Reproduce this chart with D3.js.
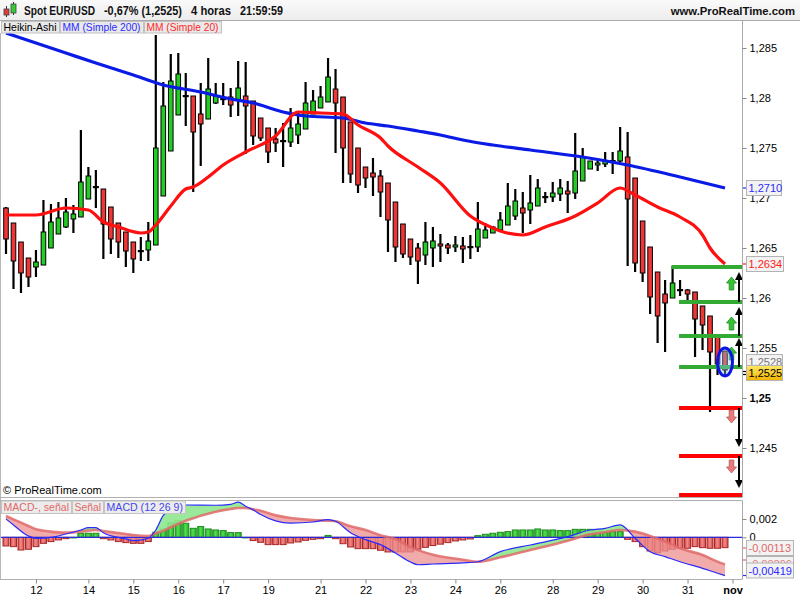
<!DOCTYPE html>
<html>
<head>
<meta charset="utf-8">
<script src="https://cdnjs.cloudflare.com/ajax/libs/d3/7.8.5/d3.min.js"></script>
<style>
html,body{margin:0;padding:0;background:#fff;}
svg{display:block;font-family:"Liberation Sans",Arial,Helvetica,sans-serif;}
</style>
</head>
<body>
<svg id="chart" width="800" height="600"></svg>
<script>
// ---------- DATA (Heikin-Ashi candles, 4h, EUR/USD) ----------
const haOpen = [
1.2690,1.2675,1.2656,1.2640,1.2631,1.2633,1.2650,1.2664,1.2671,1.2679,
1.2681,1.2699,1.2711,1.2709,1.2691,1.2675,1.2666,1.2656,1.2647,1.2648,
1.2653,1.2702,1.2747,1.2783,1.2802,1.2802,1.2784,1.2779,1.2795,1.2799,
1.2801,1.2798,1.2802,1.2797,1.2780,1.2770,1.2759,1.2757,1.2756,1.2763,
1.2769,1.2784,1.2790,1.2796,1.2809,1.2801,1.2776,1.2750,1.2731,1.2725,
1.2722,1.2715,1.2696,1.2674,1.2659,1.2650,1.2643,1.2650,1.2654,1.2653,
1.2651,1.2652,1.2651,1.2651,1.2660,1.2665,1.2668,1.2673,1.2682,1.2690,
1.2688,1.2692,1.2701,1.2701,1.2704,1.2707,1.2705,1.2717,1.2729,1.2733,
1.2734,1.2737,1.2737,1.2741,1.2720,1.2677,1.2651,1.2626,1.2604,1.2600,
1.2608,1.2608,1.2606,1.2592,1.2582,1.2562,1.2547];
const haHigh = [
1.2691,1.2675,1.2656,1.2640,1.2648,1.2698,1.2694,1.2696,1.2700,1.2693,
1.2768,1.2731,1.2728,1.2709,1.2691,1.2675,1.2666,1.2656,1.2661,1.2676,
1.2863,1.2816,1.2844,1.2845,1.2825,1.2802,1.2815,1.2840,1.2815,1.2815,
1.2810,1.2837,1.2836,1.2797,1.2780,1.2770,1.2770,1.2775,1.2790,1.2787,
1.2816,1.2808,1.2812,1.2840,1.2829,1.2801,1.2776,1.2750,1.2731,1.2740,
1.2728,1.2715,1.2696,1.2674,1.2659,1.2655,1.2676,1.2671,1.2664,1.2655,
1.2662,1.2661,1.2663,1.2696,1.2675,1.2672,1.2686,1.2715,1.2709,1.2706,
1.2723,1.2719,1.2706,1.2716,1.2719,1.2717,1.2765,1.2750,1.2737,1.2740,
1.2746,1.2746,1.2771,1.2766,1.2720,1.2677,1.2651,1.2626,1.2618,1.2632,
1.2618,1.2609,1.2606,1.2592,1.2582,1.2562,1.2547];
const haLow = [
1.2644,1.2609,1.2605,1.2611,1.2621,1.2633,1.2650,1.2664,1.2670,1.2665,
1.2681,1.2699,1.2690,1.2639,1.2644,1.2640,1.2631,1.2625,1.2637,1.2637,
1.2653,1.2702,1.2747,1.2783,1.2772,1.2706,1.2732,1.2779,1.2794,1.2793,
1.2781,1.2782,1.2744,1.2753,1.2757,1.2735,1.2746,1.2731,1.2751,1.2754,
1.2769,1.2784,1.2790,1.2796,1.2745,1.2715,1.2715,1.2705,1.2710,1.2702,
1.2681,1.2646,1.2636,1.2640,1.2633,1.2614,1.2633,1.2631,1.2636,1.2644,
1.2646,1.2635,1.2639,1.2646,1.2660,1.2665,1.2668,1.2673,1.2678,1.2665,
1.2674,1.2692,1.2695,1.2696,1.2697,1.2685,1.2699,1.2717,1.2729,1.2727,
1.2731,1.2724,1.2736,1.2632,1.2626,1.2616,1.2584,1.2555,1.2546,1.2600,
1.2602,1.2598,1.2541,1.2548,1.2486,1.2523,1.2522];
const haClose = [
1.2659,1.2637,1.2625,1.2621,1.2636,1.2666,1.2676,1.2680,1.2686,1.2684,
1.2716,1.2722,1.2711,1.2674,1.2659,1.2656,1.2647,1.2639,1.2647,1.2657,
1.2750,1.2792,1.2817,1.2824,1.2802,1.2766,1.2774,1.2809,1.2802,1.2799,
1.2793,1.2810,1.2792,1.2762,1.2760,1.2746,1.2755,1.2757,1.2770,1.2774,
1.2795,1.2797,1.2801,1.2821,1.2795,1.2750,1.2724,1.2713,1.2720,1.2721,
1.2706,1.2678,1.2651,1.2644,1.2641,1.2637,1.2656,1.2657,1.2652,1.2650,
1.2653,1.2649,1.2651,1.2669,1.2668,1.2671,1.2678,1.2692,1.2697,1.2685,
1.2695,1.2710,1.2701,1.2705,1.2710,1.2704,1.2727,1.2741,1.2737,1.2735,
1.2737,1.2737,1.2747,1.2699,1.2635,1.2625,1.2601,1.2582,1.2595,1.2615,
1.2608,1.2604,1.2579,1.2573,1.2546,1.2534,1.2528];

// Moving averages (read at candle indices)
const ma200Idx = [0,4,8,12,17,21,26,30,33,37,40,45,48,51,55,58,61,65,70,77,83,90,96];
const ma200Val = [1.2865,1.2855,1.2845,1.2835,1.2823,1.2813,1.2806,1.2799,1.2795,1.2786,1.2782,1.2780,1.2775,1.2772,1.2767,1.2763,1.2758,1.2753,1.2748,1.2741,1.2733,1.2721,1.2710];
const ma20Idx = [0,4,8,11,13,15,18,19,20,22,24,25,27,29,32,36,39,42,45,47,50,51,55,58,62,65,66,69,72,76,79,82,84,87,90,93,94,96];
const ma20Val = [1.2683,1.2683,1.2690,1.2688,1.2676,1.2671,1.2665,1.2666,1.2673,1.2692,1.2709,1.2711,1.2721,1.2733,1.2746,1.2762,1.2786,1.2785,1.2784,1.2773,1.2760,1.2752,1.2731,1.2715,1.2682,1.2670,1.2667,1.2663,1.2671,1.2682,1.2695,1.2710,1.2703,1.2691,1.2681,1.2663,1.2650,1.2634];

// MACD (12 26 9)
const macdIdx = [0,1,3,4,6,8,10,11,12,13,16,17,19,20,21,22,24,28,30,31,32,33,34,36,38,41,43,44,46,48,50,52,54,55,57,61,63,66,70,75,78,80,82,84,86,88,90,93,95,96];
const macdVal = [0.0020,0.00135,0.00014,-0.00011,0.0,0.00036,0.0008,0.00106,0.00106,0.0005,
-0.00018,-0.00037,-0.0001,0.0008,0.0024,0.0030,0.00353,0.0035,0.0036,0.00385,
0.0034,0.0030,0.0025,0.0018,0.00156,0.00167,0.00193,0.00175,0.0005,-0.00026,
-0.0008,-0.00172,-0.0027,-0.003,-0.00292,-0.0028,-0.00267,-0.00157,-0.00084,0.00007,
0.0008,0.00098,0.00135,-0.00011,-0.00157,-0.00211,-0.00267,-0.00339,-0.00393,-0.00419];
const signalVal = [0.00233,0.00196,0.00124,0.00087,0.00062,0.00051,0.00062,0.00073,0.0008,0.00069,
0.00036,0.00025,0.00015,0.00045,0.0007,0.0011,0.0018,0.0028,0.0031,0.0032,
0.0032,0.00305,0.0029,0.0024,0.0021,0.00188,0.00182,0.00176,0.0012,0.0008,
0.00022,-0.0002,-0.0011,-0.0014,-0.0019,-0.00245,-0.00267,-0.00219,-0.00139,-0.00037,
0.00033,0.00055,0.0008,0.00062,0.00015,-0.00047,-0.0012,-0.00193,-0.00266,-0.00296];
const macdHist = [
-0.00095,-0.00102,-0.00139,-0.00131,-0.00102,-0.00066,-0.00047,-0.00029,-0.00015,0.0,
0.00044,0.00044,0.00044,-0.00015,-0.00029,-0.00047,-0.00058,-0.00066,-0.00066,-0.00047,
0.00055,0.00091,0.0016,0.00182,0.00153,0.00098,0.00117,0.00091,0.0008,0.00073,
0.00051,0.00051,0.0,-0.00036,-0.00055,-0.0008,-0.0008,-0.0008,-0.00062,-0.00051,
-0.00033,-0.00022,-0.00015,0.0002,-0.00015,-0.0007,-0.00106,-0.00124,-0.00124,-0.00124,
-0.00142,-0.0016,-0.0016,-0.0016,-0.0016,-0.0013,-0.0011,-0.0009,-0.00075,-0.00058,
-0.0004,-0.00029,-0.00018,0.00018,0.00033,0.00044,0.00055,0.00062,0.0008,0.0008,
0.0008,0.00091,0.0008,0.0008,0.00073,0.00073,0.00087,0.00087,0.00087,0.0008,
0.00069,0.00062,0.00062,-0.00022,-0.00047,-0.00102,-0.0015,-0.00168,-0.0015,-0.00131,
-0.0012,-0.0012,-0.00102,-0.00113,-0.0012,-0.0012,-0.00113];

// Axis labels
const xTickIdx = [4,11,17,23,29,35,42,48,54,60,66,73,79,85,91,97];
const xTickLab = ['12','14','15','16','17','19','21','22','23','24','26','28','29','30','31','nov'];
const priceTicks = [1.285,1.28,1.275,1.27,1.265,1.26,1.255,1.25,1.245];
const macdTicks = [0.002,0];

// Drawn levels / annotations
const greenLevels = [1.2631,1.2596,1.2562,1.2531];
const greenStart = [89,90,90,90];
const redLevels = [1.2490,1.2442,1.2403];
const redStart = [90,90,90];
const upArrowFrom = [1.2596,1.2562,1.2531], upArrowTo = [1.2626,1.2591,1.2560];
const downArrowFrom = [1.2490,1.2442], downArrowTo = [1.2451,1.2410];
const greenBlockTips = [1.2621,1.2581,1.2551];
const redBlockTips = [1.2475,1.2425];

// ---------- LAYOUT ----------
const svg = d3.select('#chart');
const plotR = 742, mainTop = 33.5, mainBot = 497, macdTop = 500.5, macdBot = 579;
const xs = d3.scaleLinear().domain([0,96]).range([6,725]);
const ys = d3.scaleLinear().domain([1.24,1.29]).range([498,-2]);
const ym = d3.scaleLinear().domain([0,0.002]).range([537.3,519]);
const fmtP = d => String(d).replace('.',',');

const defs = svg.append('defs');
defs.append('clipPath').attr('id','clipMain').append('rect')
  .attr('x',1).attr('y',mainTop).attr('width',plotR-1).attr('height',mainBot-mainTop);
defs.append('clipPath').attr('id','clipMacd').append('rect')
  .attr('x',1).attr('y',macdTop).attr('width',plotR-1).attr('height',macdBot-macdTop);
function vGrad(id, c1, c2){
  const g = defs.append('linearGradient').attr('id',id).attr('x1',0).attr('y1',0).attr('x2',0).attr('y2',1);
  g.append('stop').attr('offset','0%').attr('stop-color',c1);
  g.append('stop').attr('offset','100%').attr('stop-color',c2);
}
function hGrad(id, cEdge, cMid){
  const g = defs.append('linearGradient').attr('id',id).attr('x1',0).attr('y1',0).attr('x2',1).attr('y2',0);
  g.append('stop').attr('offset','0%').attr('stop-color',cEdge);
  g.append('stop').attr('offset','45%').attr('stop-color',cMid);
  g.append('stop').attr('offset','100%').attr('stop-color',cEdge);
}
vGrad('gHead','#fafafa','#ececec');
vGrad('gYel','#ffe766','#f2b400');
hGrad('gBarG','#22aa22','#55dd55');
hGrad('gBarR','#d24848','#f48a8a');

// ---------- HEADER ----------
svg.append('rect').attr('x',0).attr('y',0).attr('width',800).attr('height',20.5).attr('fill','url(#gHead)');
svg.append('line').attr('x1',0).attr('x2',800).attr('y1',20.5).attr('y2',20.5).attr('stroke','#aaaaaa');
svg.append('line').attr('x1',6.5).attr('x2',6.5).attr('y1',6).attr('y2',17).attr('stroke','#333');
svg.append('rect').attr('x',4).attr('y',9).attr('width',5).attr('height',6).attr('fill','#e23b3b').attr('stroke','#444').attr('stroke-width',0.8);
svg.append('line').attr('x1',13.5).attr('x2',13.5).attr('y1',2).attr('y2',15).attr('stroke','#333');
svg.append('rect').attr('x',11).attr('y',4).attr('width',5).attr('height',9).attr('fill','#33cc33').attr('stroke','#444').attr('stroke-width',0.8);
const headTexts = [['Spot EUR/USD',24,71],['-0,67% (1,2525)',104,78],['4 horas',191,40],['21:59:59',240,43]];
headTexts.forEach(t => {
  svg.append('text').attr('x',t[1]).attr('y',15).attr('font-size',12).attr('font-weight','bold')
    .attr('fill','#111').attr('textLength',t[2]).attr('lengthAdjust','spacingAndGlyphs').text(t[0]);
});
svg.append('text').attr('x',795).attr('y',15).attr('text-anchor','end').attr('font-size',11.3)
  .attr('font-weight','bold').attr('fill','#111').text('www.ProRealTime.com');

const tabs = [['Heikin-Ashi',1,58,'#000'],['MM (Simple 200)',60,83,'#2b2bff'],['MM (Simple 20)',144,77,'#ff2b2b']];
tabs.forEach(t => {
  svg.append('rect').attr('x',t[1]+0.5).attr('y',21.5).attr('width',t[2]).attr('height',11.5)
    .attr('fill','#e9e9e9').attr('stroke','#c2c2c2');
  svg.append('text').attr('x',t[1]+2.5).attr('y',31).attr('font-size',10.6).attr('fill',t[3])
    .attr('textLength',t[2]-5).attr('lengthAdjust','spacingAndGlyphs').text(t[0]);
});

// ---------- FRAMES ----------
svg.append('line').attr('x1',0.5).attr('x2',0.5).attr('y1',33).attr('y2',macdBot).attr('stroke','#b8b8b8');
svg.append('line').attr('x1',0).attr('x2',plotR).attr('y1',mainBot+0.5).attr('y2',mainBot+0.5).attr('stroke','#b0b0b0');
svg.append('line').attr('x1',0).attr('x2',plotR).attr('y1',macdTop).attr('y2',macdTop).attr('stroke','#b0b0b0');
svg.append('line').attr('x1',0).attr('x2',plotR).attr('y1',macdBot+0.5).attr('y2',macdBot+0.5).attr('stroke','#b0b0b0');
svg.append('line').attr('x1',plotR+0.5).attr('x2',plotR+0.5).attr('y1',21).attr('y2',mainBot+0.5).attr('stroke','#a8a8a8');
svg.append('line').attr('x1',plotR+0.5).attr('x2',plotR+0.5).attr('y1',macdTop).attr('y2',macdBot+0.5).attr('stroke','#a8a8a8');

// ---------- MAIN PANEL ----------
const gMain = svg.append('g').attr('clip-path','url(#clipMain)');
const idx = d3.range(haOpen.length);
gMain.append('g').selectAll('line').data(idx).join('line')
  .attr('x1',i=>xs(i)).attr('x2',i=>xs(i))
  .attr('y1',i=>ys(haHigh[i])).attr('y2',i=>ys(haLow[i]))
  .attr('stroke','#000').attr('stroke-width',2.2);
gMain.append('g').selectAll('rect').data(idx).join('rect')
  .each(function(i){
    const o = haOpen[i], c = haClose[i];
    const el = d3.select(this);
    if (Math.abs(c-o) < 0.00005) {
      el.attr('x',xs(i)-3).attr('width',6).attr('y',ys(o)-1).attr('height',2.2).attr('fill','#000');
    } else {
      const top = ys(Math.max(o,c)), bot = ys(Math.min(o,c));
      el.attr('x',xs(i)-2.3).attr('width',4.6).attr('y',top).attr('height',Math.max(bot-top,1.5))
        .attr('fill', c>o ? '#22cc22' : '#f03535').attr('stroke','#000').attr('stroke-width',1);
    }
  });

const lineXY = d3.line().x(d=>xs(d[0])).y(d=>ys(d[1])).curve(d3.curveMonotoneX);
gMain.append('path').attr('d',lineXY(ma200Idx.map((k,j)=>[k,ma200Val[j]])))
  .attr('fill','none').attr('stroke','#0a1be6').attr('stroke-width',3.2);
gMain.append('path').attr('d',lineXY(ma20Idx.map((k,j)=>[k,ma20Val[j]])))
  .attr('fill','none').attr('stroke','#ff1010').attr('stroke-width',3.2);

greenLevels.forEach((v,j)=>{
  gMain.append('line').attr('x1',xs(greenStart[j])-1).attr('x2',plotR).attr('y1',ys(v)).attr('y2',ys(v))
    .attr('stroke','#33aa33').attr('stroke-width',4);
});
redLevels.forEach((v,j)=>{
  gMain.append('line').attr('x1',xs(redStart[j])-1).attr('x2',plotR).attr('y1',ys(v)).attr('y2',ys(v))
    .attr('stroke','#ff0000').attr('stroke-width',4);
});
const ax = 739;
upArrowFrom.forEach((v,j)=>{
  const y0 = ys(v), y1 = ys(upArrowTo[j]);
  gMain.append('line').attr('x1',ax).attr('x2',ax).attr('y1',y0).attr('y2',y1+6).attr('stroke','#000').attr('stroke-width',2);
  gMain.append('path').attr('d',`M${ax},${y1} L${ax+4},${y1+8} L${ax-4},${y1+8} Z`).attr('fill','#000');
});
downArrowFrom.forEach((v,j)=>{
  const y0 = ys(v), y1 = ys(downArrowTo[j]);
  gMain.append('line').attr('x1',ax).attr('x2',ax).attr('y1',y0).attr('y2',y1-6).attr('stroke','#000').attr('stroke-width',2);
  gMain.append('path').attr('d',`M${ax},${y1} L${ax+4},${y1-8} L${ax-4},${y1-8} Z`).attr('fill','#000');
});
const bx = 731.5;
greenBlockTips.forEach(v=>{
  const t = ys(v);
  gMain.append('path').attr('d',`M${bx},${t} L${bx+5},${t+6} L${bx+2.3},${t+6} L${bx+2.3},${t+13} L${bx-2.3},${t+13} L${bx-2.3},${t+6} L${bx-5},${t+6} Z`)
    .attr('fill','#35c035').attr('stroke','#1f8f1f').attr('stroke-width',0.8);
});
redBlockTips.forEach(v=>{
  const t = ys(v);
  gMain.append('path').attr('d',`M${bx},${t} L${bx+5},${t-6} L${bx+2.3},${t-6} L${bx+2.3},${t-13} L${bx-2.3},${t-13} L${bx-2.3},${t-6} L${bx-5},${t-6} Z`)
    .attr('fill','#e87c7c').attr('stroke','#c05555').attr('stroke-width',0.8);
});
gMain.append('ellipse').attr('cx',xs(96)).attr('cy',ys(1.2536)).attr('rx',7.5).attr('ry',14)
  .attr('fill','rgba(140,210,255,0.35)').attr('stroke','#0a14e6').attr('stroke-width',3);

svg.append('text').attr('x',3).attr('y',494).attr('font-size',11).attr('fill','#000').text('© ProRealTime.com');

const yAxis = d3.axisRight(ys).tickValues(priceTicks).tickSize(4).tickPadding(3).tickFormat(fmtP);
const gy = svg.append('g').attr('transform',`translate(${plotR+0.5},0)`).call(yAxis);
gy.select('.domain').remove();
gy.selectAll('.tick line').attr('stroke','#888');
gy.selectAll('.tick text').attr('font-size',11).attr('font-family','"Liberation Sans",Arial,sans-serif')
  .attr('fill','#000').attr('font-weight',d=>d===1.25?'bold':'normal');

function valBox(y, txt, col, w, fill){
  svg.append('rect').attr('x',746.5).attr('y',y-7.5).attr('width',w).attr('height',15)
    .attr('fill',fill||'#f3f3f3').attr('stroke','#b4b4b4');
  svg.append('text').attr('x',748.5).attr('y',y+4).attr('font-size',11).attr('fill',col).text(txt);
}
function dash(y,col){
  svg.append('line').attr('x1',743).attr('x2',746).attr('y1',y).attr('y2',y).attr('stroke',col).attr('stroke-width',1.2);
}
dash(ys(1.2710),'#2b2bff'); valBox(ys(1.2710),'1,2710','#2b2bff',35);
dash(ys(1.2634),'#ff2020'); valBox(ys(1.2634),'1,2634','#ff2020',37);
valBox(ys(1.2528)-8,'1,2528','#777',36);
dash(ys(1.2525)-1.5,'#000'); dash(ys(1.2525)+1.5,'#000');
valBox(ys(1.2525),'1,2525','#000',36,'url(#gYel)');

// ---------- MACD PANEL ----------
const gM = svg.append('g').attr('clip-path','url(#clipMacd)');
gM.append('g').selectAll('rect').data(macdHist).join('rect')
  .attr('x',(d,i)=>xs(i)-3).attr('width',6)
  .attr('y',d=>d>=0?ym(d):ym(0)).attr('height',d=>Math.max(Math.abs(ym(d)-ym(0)),0.6))
  .attr('fill',d=>d>=0?'url(#gBarG)':'url(#gBarR)').attr('stroke',d=>d>=0?'#1c8c1c':'#a82828').attr('stroke-width',1);

const mp = macdIdx.map((k,j)=>({i:k,m:macdVal[j],s:signalVal[j]}));
const cv = d3.curveMonotoneX;
const aBelowM = d3.area().x(d=>xs(d.i)).y0(macdBot+20).y1(d=>ym(d.m)).curve(cv);
const aBelowS = d3.area().x(d=>xs(d.i)).y0(macdBot+20).y1(d=>ym(d.s)).curve(cv);
const aAboveS = d3.area().x(d=>xs(d.i)).y0(macdTop-20).y1(d=>ym(d.s)).curve(cv);
const aAboveM = d3.area().x(d=>xs(d.i)).y0(macdTop-20).y1(d=>ym(d.m)).curve(cv);
defs.append('clipPath').attr('id','cBelowM').append('path').attr('d',aBelowM(mp));
defs.append('clipPath').attr('id','cBelowS').append('path').attr('d',aBelowS(mp));
gM.append('g').attr('clip-path','url(#cBelowM)').append('path').attr('d',aAboveS(mp))
  .attr('fill','#8fe68f').attr('opacity',0.9);
gM.append('g').attr('clip-path','url(#cBelowS)').append('path').attr('d',aAboveM(mp))
  .attr('fill','#ee8f8f').attr('opacity',0.75);
gM.append('line').attr('x1',1).attr('x2',plotR).attr('y1',ym(0)).attr('y2',ym(0)).attr('stroke','#2a2ad8').attr('stroke-width',1.2);
const lS = d3.line().x(d=>xs(d.i)).y(d=>ym(d.s)).curve(cv);
const lM = d3.line().x(d=>xs(d.i)).y(d=>ym(d.m)).curve(cv);
gM.append('path').attr('d',lS(mp)).attr('fill','none').attr('stroke','#e06a6a').attr('stroke-width',2.6).attr('opacity',0.85);
gM.append('path').attr('d',lM(mp)).attr('fill','none').attr('stroke','#2a2aff').attr('stroke-width',1.2);

const mtabs = [['MACD-, señal',1,70,'#e06868'],['Señal',72,31,'#e06868'],['MACD (12 26 9)',104,81,'#4444ee']];
mtabs.forEach(t=>{
  svg.append('rect').attr('x',t[1]+0.5).attr('y',501).attr('width',t[2]).attr('height',12.5)
    .attr('fill','#ececec').attr('stroke','#c4c4c4');
  svg.append('text').attr('x',t[1]+2.5).attr('y',511).attr('font-size',10.8).attr('fill',t[3])
    .attr('textLength',t[2]-4.5).attr('lengthAdjust','spacingAndGlyphs').text(t[0]);
});

const mAxis = d3.axisRight(ym).tickValues(macdTicks).tickSize(4).tickPadding(3).tickFormat(d=>d===0?'0':fmtP(d));
const gma = svg.append('g').attr('transform',`translate(${plotR+0.5},0)`).call(mAxis);
gma.select('.domain').remove();
gma.selectAll('.tick line').attr('stroke','#888');
gma.selectAll('.tick text').attr('font-size',11).attr('font-family','"Liberation Sans",Arial,sans-serif').attr('fill','#000');
dash(548,'#e06868'); valBox(548,'-0,00113','#e06868',47);
dash(560,'#e06868'); valBox(564,'-0,00296','#e08080',47);
dash(575.5,'#2a2aff'); valBox(570.5,'-0,00419','#2a2aff',47);

const xAxis = d3.axisBottom(xs).tickValues(xTickIdx).tickSize(4).tickPadding(3).tickFormat((d,j)=>xTickLab[j]);
const gx = svg.append('g').attr('transform',`translate(0,${macdBot+0.5})`).call(xAxis);
gx.select('.domain').remove();
gx.selectAll('.tick line').attr('stroke','#888');
gx.selectAll('.tick text').attr('font-size',11).attr('font-family','"Liberation Sans",Arial,sans-serif')
  .attr('fill','#000').attr('font-weight',(d,j)=>xTickLab[j]==='nov'?'bold':'normal');
</script>
</body>
</html>
